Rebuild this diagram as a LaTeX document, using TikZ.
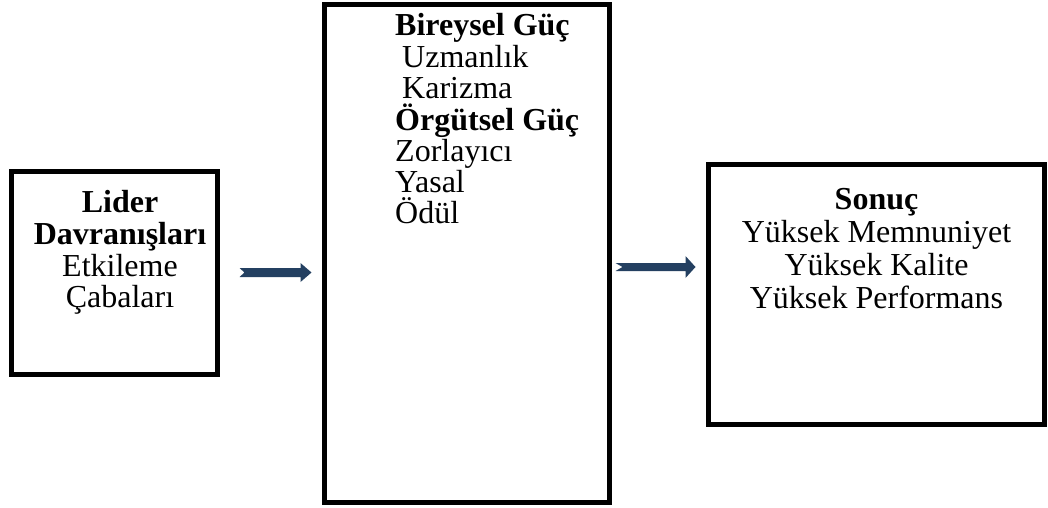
\documentclass[tikz,border=0pt]{standalone}
\usepackage{fontspec}
\setmainfont{Liberation Serif}
\usetikzlibrary{calc}
\definecolor{arrowblue}{RGB}{36,64,97}
\tikzset{
  box/.style={draw=black, line width=5pt, fill=white, inner sep=0pt},
  txt/.style={inner sep=0pt, anchor=base, font=\fontsize{32}{33}\selectfont},
  txtl/.style={txt, anchor=base west},
  flow/.style={fill=arrowblue, draw=none},
}
% #1 start coord, #2 end coord, #3 shaft half height, #4 head half height, #5 head length, #6 notch depth
\newcommand{\myNotchArrow}[6]{%
  \fill[flow] ($(#1)+(0,-#3)$) -- ($(#2)+(-#5,-#3)$) -- ($(#2)+(-#5,-#4)$) -- (#2)
    -- ($(#2)+(-#5,#4)$) -- ($(#2)+(-#5,#3)$) -- ($(#1)+(0,#3)$) -- ($(#1)+(#6,0)$) -- cycle;}
\begin{document}
\begin{tikzpicture}[x=1pt,y=-1pt]
\useasboundingbox (0,0) rectangle (1048,507);
% boxes
\node[box, minimum width=206pt, minimum height=203pt] (lider) at (114.5,273) {};
\node[box, minimum width=285pt, minimum height=498pt] (mid) at (467,253.5) {};
\node[box, minimum width=336pt, minimum height=260pt] (sonuc) at (876.5,294.5) {};
% left text
\node[txt] (l1) at (120,212) {\bfseries Lider};
\node[txt] (l2) at (120,244) {\bfseries Davranışları};
\node[txt] (l3) at (120,276) {Etkileme};
\node[txt] (l4) at (120,307) {Çabaları};
% middle text
\node[txtl] (m1) at (395,35) {\bfseries Bireysel Güç};
\node[txtl] (m2) at (402,67) {Uzmanlık};
\node[txtl] (m3) at (402,98) {Karizma};
\node[txtl] (m4) at (395,130) {\bfseries Örgütsel Güç};
\node[txtl] (m5) at (395,161) {Zorlayıcı};
\node[txtl] (m6) at (395,192) {Yasal};
\node[txtl] (m7) at (395,223) {Ödül};
% right text
\node[txt] (r1) at (876.5,209) {\bfseries Sonuç};
\node[txt] (r2) at (876.5,242) {Yüksek Memnuniyet};
\node[txt] (r3) at (876.5,275) {Yüksek Kalite};
\node[txt] (r4) at (876.5,308) {Yüksek Performans};
% arrows
\coordinate (a1s) at ($(lider.east)+(19.5,-0.5)$);
\coordinate (a1e) at ($(lider.east -| mid.west)+(-10.5,-0.5)$);
\myNotchArrow{a1s}{a1e}{4.5}{9.5}{11}{5}
\coordinate (a2s) at ($(mid.east)+(3.5,13.5)$);
\coordinate (a2e) at ($(mid.east -| sonuc.west)+(-10.5,13.5)$);
\myNotchArrow{a2s}{a2e}{4}{11}{10}{7}
\end{tikzpicture}
\end{document}
